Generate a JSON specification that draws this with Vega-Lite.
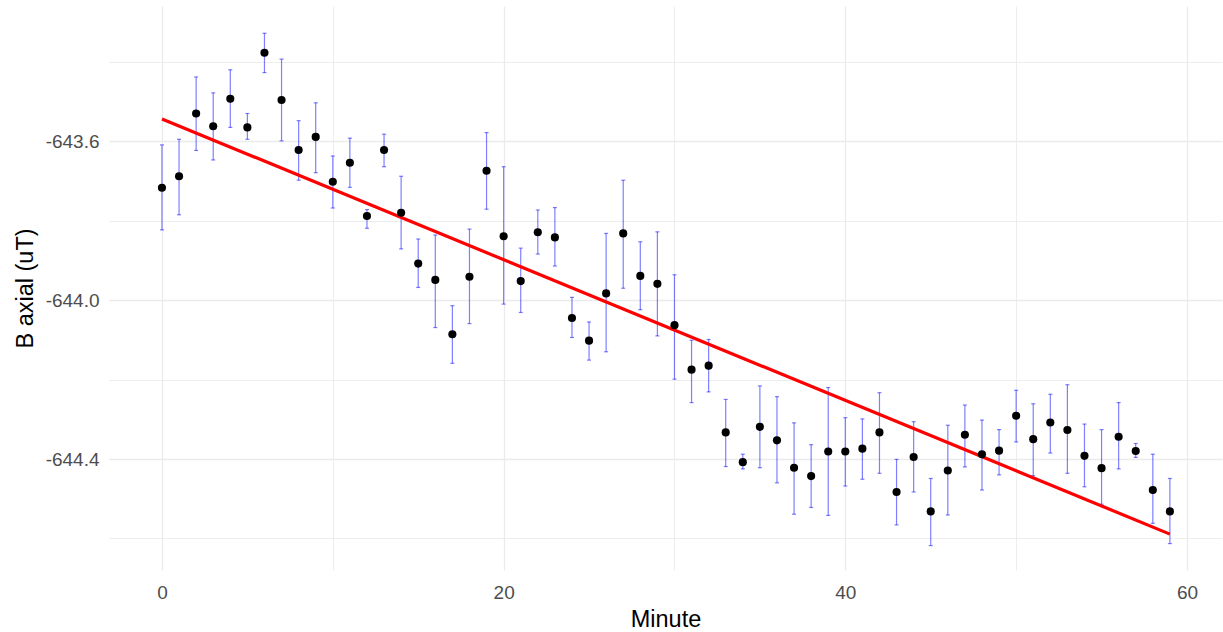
{
  "$schema": "https://vega.github.io/schema/vega-lite/v6.json",
  "width": 1113,
  "height": 564,
  "autosize": {"type": "none"},
  "padding": {"left": 109, "top": 6, "right": 1, "bottom": 62},
  "background": "white",
  "config": {
    "view": {"stroke": null},
    "font": "Liberation Sans"
  },
  "data": {
    "values": [
      {"Minute": 0, "B": -643.717, "high": -643.609, "low": -643.823},
      {"Minute": 1, "B": -643.688, "high": -643.595, "low": -643.785},
      {"Minute": 2, "B": -643.530, "high": -643.438, "low": -643.623},
      {"Minute": 3, "B": -643.562, "high": -643.478, "low": -643.647},
      {"Minute": 4, "B": -643.493, "high": -643.420, "low": -643.565},
      {"Minute": 5, "B": -643.565, "high": -643.530, "low": -643.595},
      {"Minute": 6, "B": -643.377, "high": -643.328, "low": -643.427},
      {"Minute": 7, "B": -643.496, "high": -643.393, "low": -643.599},
      {"Minute": 8, "B": -643.622, "high": -643.548, "low": -643.698},
      {"Minute": 9, "B": -643.589, "high": -643.503, "low": -643.679},
      {"Minute": 10, "B": -643.702, "high": -643.637, "low": -643.768},
      {"Minute": 11, "B": -643.654, "high": -643.592, "low": -643.716},
      {"Minute": 12, "B": -643.788, "high": -643.772, "low": -643.819},
      {"Minute": 13, "B": -643.622, "high": -643.582, "low": -643.664},
      {"Minute": 14, "B": -643.780, "high": -643.688, "low": -643.871},
      {"Minute": 15, "B": -643.908, "high": -643.846, "low": -643.968},
      {"Minute": 16, "B": -643.949, "high": -643.836, "low": -644.069},
      {"Minute": 17, "B": -644.086, "high": -644.014, "low": -644.159},
      {"Minute": 18, "B": -643.941, "high": -643.821, "low": -644.059},
      {"Minute": 19, "B": -643.674, "high": -643.578, "low": -643.771},
      {"Minute": 20, "B": -643.839, "high": -643.664, "low": -644.010},
      {"Minute": 21, "B": -643.952, "high": -643.869, "low": -644.031},
      {"Minute": 22, "B": -643.829, "high": -643.773, "low": -643.884},
      {"Minute": 23, "B": -643.842, "high": -643.767, "low": -643.914},
      {"Minute": 24, "B": -644.045, "high": -643.993, "low": -644.094},
      {"Minute": 25, "B": -644.102, "high": -644.055, "low": -644.151},
      {"Minute": 26, "B": -643.983, "high": -643.832, "low": -644.130},
      {"Minute": 27, "B": -643.832, "high": -643.698, "low": -643.970},
      {"Minute": 28, "B": -643.939, "high": -643.853, "low": -644.024},
      {"Minute": 29, "B": -643.959, "high": -643.828, "low": -644.090},
      {"Minute": 30, "B": -644.063, "high": -643.936, "low": -644.199},
      {"Minute": 31, "B": -644.175, "high": -644.101, "low": -644.258},
      {"Minute": 32, "B": -644.165, "high": -644.099, "low": -644.231},
      {"Minute": 33, "B": -644.333, "high": -644.250, "low": -644.419},
      {"Minute": 34, "B": -644.408, "high": -644.388, "low": -644.425},
      {"Minute": 35, "B": -644.319, "high": -644.216, "low": -644.422},
      {"Minute": 36, "B": -644.353, "high": -644.243, "low": -644.460},
      {"Minute": 37, "B": -644.422, "high": -644.309, "low": -644.539},
      {"Minute": 38, "B": -644.443, "high": -644.364, "low": -644.522},
      {"Minute": 39, "B": -644.381, "high": -644.220, "low": -644.542},
      {"Minute": 40, "B": -644.381, "high": -644.296, "low": -644.468},
      {"Minute": 41, "B": -644.374, "high": -644.299, "low": -644.451},
      {"Minute": 42, "B": -644.333, "high": -644.233, "low": -644.436},
      {"Minute": 43, "B": -644.483, "high": -644.401, "low": -644.566},
      {"Minute": 44, "B": -644.395, "high": -644.306, "low": -644.483},
      {"Minute": 45, "B": -644.532, "high": -644.449, "low": -644.618},
      {"Minute": 46, "B": -644.429, "high": -644.315, "low": -644.541},
      {"Minute": 47, "B": -644.339, "high": -644.264, "low": -644.420},
      {"Minute": 48, "B": -644.388, "high": -644.302, "low": -644.478},
      {"Minute": 49, "B": -644.379, "high": -644.326, "low": -644.440},
      {"Minute": 50, "B": -644.291, "high": -644.227, "low": -644.357},
      {"Minute": 51, "B": -644.350, "high": -644.261, "low": -644.442},
      {"Minute": 52, "B": -644.308, "high": -644.237, "low": -644.385},
      {"Minute": 53, "B": -644.327, "high": -644.213, "low": -644.436},
      {"Minute": 54, "B": -644.392, "high": -644.312, "low": -644.470},
      {"Minute": 55, "B": -644.423, "high": -644.326, "low": -644.514},
      {"Minute": 56, "B": -644.344, "high": -644.258, "low": -644.425},
      {"Minute": 57, "B": -644.380, "high": -644.361, "low": -644.396},
      {"Minute": 58, "B": -644.478, "high": -644.388, "low": -644.562},
      {"Minute": 59, "B": -644.532, "high": -644.449, "low": -644.613}
    ]
  },
  "encoding": {
    "x": {
      "field": "Minute",
      "type": "quantitative",
      "scale": {"domain": [-3.1, 62.05], "nice": false, "zero": false},
      "axis": {
        "title": "Minute",
        "values": [0, 10, 20, 30, 40, 50, 60],
        "labelExpr": "datum.value % 20 === 0 ? datum.label : ''",
        "domain": false,
        "ticks": false,
        "grid": true,
        "gridColor": "#EBEBEB",
        "gridWidth": {"condition": {"test": "datum.value % 20 === 0", "value": 1.3}, "value": 0.9},
        "labelFont": "Liberation Sans",
        "labelFontSize": 19,
        "labelColor": "#4D4D4D",
        "labelPadding": 13,
        "labelFlush": false,
        "titleFont": "Liberation Sans",
        "titleFontSize": 23.5,
        "titleFontWeight": "normal",
        "titleColor": "#000000",
        "titlePadding": 5
      }
    }
  },
  "layer": [
    {
      "mark": {"type": "errorbar", "ticks": {"size": 4, "thickness": 1.2, "color": "blue", "opacity": 0.5}, "rule": {"color": "blue", "opacity": 0.5, "strokeWidth": 1.2}},
      "encoding": {
        "y": {
          "field": "low",
          "type": "quantitative",
          "scale": {"domain": [-644.6795, -643.2593], "nice": false, "zero": false},
          "axis": {
            "title": "B axial (uT)",
            "values": [-644.6, -644.4, -644.2, -644.0, -643.8, -643.6, -643.4],
            "labelExpr": "round(datum.value*10) % 4 === 0 ? '-' + format(abs(datum.value), '.1f') : ''",
            "domain": false,
            "ticks": false,
            "grid": true,
            "gridColor": "#EBEBEB",
            "gridWidth": {"condition": {"test": "round(datum.value*10) % 4 === 0", "value": 1.3}, "value": 0.9},
            "labelFont": "Liberation Sans",
            "labelFontSize": 19,
            "labelColor": "#4D4D4D",
            "labelPadding": 10,
            "labelFlush": false,
            "titleFont": "Liberation Sans",
            "titleFontSize": 23.5,
            "titleFontWeight": "normal",
            "titleColor": "#000000",
            "titlePadding": 8
          }
        },
        "y2": {"field": "high"}
      }
    },
    {
      "transform": [{"regression": "B", "on": "Minute"}],
      "mark": {"type": "line", "color": "#FF0000", "strokeWidth": 3.2},
      "encoding": {
        "y": {"field": "B", "type": "quantitative"}
      }
    },
    {
      "mark": {"type": "point", "shape": "circle", "filled": true, "color": "#000000", "opacity": 1, "size": 66},
      "encoding": {
        "y": {"field": "B", "type": "quantitative"}
      }
    }
  ]
}
